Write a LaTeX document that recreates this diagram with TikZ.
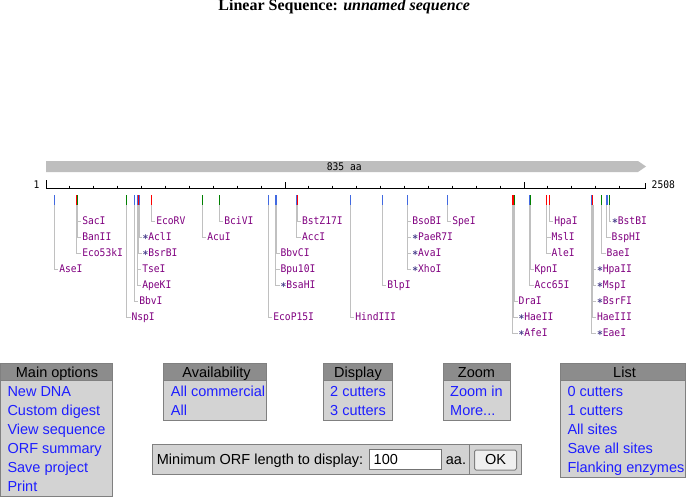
\documentclass[tikz,border=0pt]{standalone}
\usepackage{fontspec}
\newfontfamily\arialf{Liberation Sans}
\newfontfamily\monof{DejaVu Sans Mono}
\newfontfamily\seriff{Liberation Serif}
\definecolor{markblue}{HTML}{4169E1}
\definecolor{markred}{HTML}{FF0000}
\definecolor{markgreen}{HTML}{008000}
\definecolor{enzpurple}{HTML}{800080}
\definecolor{astcol}{HTML}{483D8B}
\definecolor{conngray}{HTML}{C0C0C0}
\definecolor{bargray}{HTML}{BEBEBE}
\definecolor{hdrgray}{HTML}{8C8C8C}
\definecolor{bodygray}{HTML}{D3D3D3}
\definecolor{bordergray}{HTML}{808080}
\definecolor{linkblue}{HTML}{1E1EFF}
\definecolor{btngray}{HTML}{EFEFEF}
\newcommand\stt{\textcolor{astcol}{\raisebox{-1.6pt}{\bfseries *}}}
\newcommand\condensed[1]{\scalebox{0.92}[1]{#1}}
\begin{document}
\begin{tikzpicture}[x=1pt,y=-1pt,
  enz/.style={font=\monof\fontsize{10.5}{12}\selectfont, text=enzpurple, inner sep=0pt, outer sep=0pt, text height=7.6pt, text depth=0pt, anchor=west},
  conn/.style={draw=conngray, line width=1pt, shorten >=1pt},
  mono/.style={font=\monof\fontsize{10.5}{12}\selectfont, inner sep=0pt},
  sitemark/.style={line width=1pt},
  tick/.style={line width=1pt, black},
  ui/.style={font=\arialf\fontsize{14.5}{17}\selectfont, inner sep=0pt, anchor=base west},
  link/.style={ui, text=linkblue},
  hdr/.style={font=\arialf\fontsize{14.5}{17}\selectfont, inner sep=0pt, anchor=base, text=black},
  boxbody/.style={fill=bodygray, draw=bordergray, line width=1pt},
  boxhdr/.style={fill=hdrgray, draw=bordergray, line width=1pt}
]
\useasboundingbox (0,0) rectangle (692,497);
\fill[white] (0,0) rectangle (692,497);

% title
\node[anchor=base, inner sep=0pt, font=\seriff\fontsize{16}{19}\selectfont\bfseries] (title) at (344.2,11) {Linear Sequence: \itshape unnamed sequence};

% ORF bar
\fill[bargray] (46,161) -- (638,161) -- (646,166.5) -- (638,172) -- (46,172) -- cycle;
\node[mono] (orf) at (344.2,166.8) {\condensed{835 aa}};

% axis
\draw[tick] (46,188) -- (645.5,188);
\draw[tick] (46.5,180) -- (46.5,188);
\draw[tick] (645,183) -- (645,188);
\draw[tick] (285,182) -- (285,188);
\draw[tick] (524,182) -- (524,188);
\foreach \k in {1,...,9,11,12,...,19,21,22,23,24}
  \draw[tick] ({46+23.9*\k},185.5) -- ({46+23.9*\k},188);
\node[mono, anchor=east] (startlbl) at (39.6,184.5) {\condensed{1}};
\node[mono, anchor=west] (endlbl) at (651.5,184.5) {\condensed{2508}};

% site marks
\foreach \x/\c in {54.3/markblue, 76.7/markred, 77.7/markgreen, 126.3/markgreen, 134.3/markblue,
  137.3/markblue, 138.3/markred, 139.3/markblue, 151.3/markred, 202.3/markgreen, 219.3/markgreen,
  268.3/markblue, 275.5/markblue, 276.5/markblue, 296.7/markblue, 297.7/markred, 350.3/markblue,
  382.3/markblue, 407.3/markblue, 447.3/markblue, 512.5/markred, 513.5/markred, 514.5/markgreen,
  529.3/markblue, 530.3/markgreen, 546.3/markred, 549.7/markred, 591.7/markblue, 592.7/markred,
  601.7/markgreen, 606.3/markblue, 607.3/markblue, 609.7/markgreen}
  \draw[sitemark, \c] (\x,195) -- (\x,205);

% enzyme labels and connectors
\foreach \lx/\r/\tx/\lab [count=\i] in {
  54.3/4/59.3/AseI,
  77.7/1/82.3/SacI,
  77.2/2/82.3/BanII,
  76.7/3/82.3/Eco53kI,
  126.3/7/131.5/NspI,
  134.3/6/139.3/BbvI,
  137.3/5/142.3/ApeKI,
  137.3/4/142.3/TseI,
  138.3/3/142.5/\stt BsrBI,
  139.3/2/142.5/\stt AclI,
  151.3/1/156.3/EcoRV,
  202.3/2/207.3/AcuI,
  219.3/1/224.3/BciVI,
  268.3/7/273.3/EcoP15I,
  275.3/5/280.5/\stt BsaHI,
  275.8/4/280.5/Bpu10I,
  276.3/3/280.5/BbvCI,
  296.7/2/302/AccI,
  297.7/1/302/BstZ17I,
  350.3/7/355.3/HindIII,
  382.3/5/387.3/BlpI,
  407.3/1/412.3/BsoBI,
  407.3/2/412.3/\stt PaeR7I,
  407.3/3/412.3/\stt AvaI,
  407.3/4/412.3/\stt XhoI,
  447.3/1/452.3/SpeI,
  512.5/8/518.5/\stt AfeI,
  513.5/7/518.5/\stt HaeII,
  514.5/6/518.5/DraI,
  529.3/5/534.5/Acc65I,
  530.3/4/534.5/KpnI,
  546.3/3/551.5/AleI,
  546.3/2/551.5/MslI,
  549.7/1/554.3/HpaI,
  591.5/8/597/\stt EaeI,
  592/7/597/HaeIII,
  592.5/6/597/\stt BsrFI,
  593/5/597/\stt MspI,
  593.3/4/597/\stt HpaII,
  601.7/3/606.7/BaeI,
  606.7/2/611.7/BspHI,
  609.7/1/612/\stt BstBI}
{
  \coordinate (m\i) at (\lx,205);
  \node[enz] (e\i) at (\tx,{205+16*\r}) {\condensed{\lab}};
  \draw[conn] (m\i) |- (e\i.west);
}

% ---- Main options panel
\draw[boxbody] (0.5,363.5) rectangle (112.5,496.5);
\draw[boxhdr] (0.5,363.5) rectangle (112.5,380);
\node[hdr] (mainh) at (57,377) {Main options};
\node[link] (m1) at (7.3,396.7) {New DNA};
\node[link] (m2) at (7.3,415.7) {Custom digest};
\node[link] (m3) at (7.3,434.7) {View sequence};
\node[link] (m4) at (7.3,453.7) {ORF summary};
\node[link] (m5) at (7.3,472.7) {Save project};
\node[link] (m6) at (7.3,491.7) {Print};

% ---- Availability panel
\draw[boxbody] (163.5,363.5) rectangle (266,420);
\draw[boxhdr] (163.5,363.5) rectangle (266,380);
\node[hdr] (avh) at (216.5,377) {Availability};
\node[link] (a1) at (170.7,396.7) {All commercial};
\node[link] (a2) at (170.7,415.7) {All};

% ---- Display panel
\draw[boxbody] (323.5,363.5) rectangle (392.5,420);
\draw[boxhdr] (323.5,363.5) rectangle (392.5,380);
\node[hdr] (dih) at (358,377) {Display};
\node[link] (d1) at (330,396.7) {2 cutters};
\node[link] (d2) at (330,415.7) {3 cutters};

% ---- Zoom panel
\draw[boxbody] (443.5,363.5) rectangle (510,420);
\draw[boxhdr] (443.5,363.5) rectangle (510,380);
\node[hdr] (zoh) at (476.5,377) {Zoom};
\node[link] (z1) at (450,396.7) {Zoom in};
\node[link] (z2) at (450,415.7) {More...};

% ---- List panel
\draw[boxbody] (560.5,363.5) rectangle (685.5,477.3);
\draw[boxhdr] (560.5,363.5) rectangle (685.5,380);
\node[hdr] (lih) at (624.5,377) {List};
\node[link] (l1) at (567.3,396.7) {0 cutters};
\node[link] (l2) at (567.3,415.7) {1 cutters};
\node[link] (l3) at (567.3,434.7) {All sites};
\node[link] (l4) at (567.3,453.7) {Save all sites};
\node[link] (l5) at (567.3,472.7) {Flanking enzymes};

% ---- Minimum ORF length panel
\draw[boxbody] (152,444.5) rectangle (521.5,474.3);
\draw[draw=bordergray, line width=1pt] (469.3,444.5) -- (469.3,474.3);
\node[ui] (orflbl) at (156.7,464) {Minimum ORF length to display:};
\draw[fill=white, draw=bordergray!90!black, line width=1pt] (369.5,449.5) rectangle (441,469.3);
\node[ui] (orfval) at (373.5,464) {100};
\node[ui] (orfunit) at (445.7,464) {aa.};
\draw[fill=btngray, draw=bordergray, line width=1pt, rounded corners=1.5pt] (474.5,450) rectangle (516.5,470);
\node[hdr] (okbtn) at (495.5,464.3) {OK};
\end{tikzpicture}
\end{document}
